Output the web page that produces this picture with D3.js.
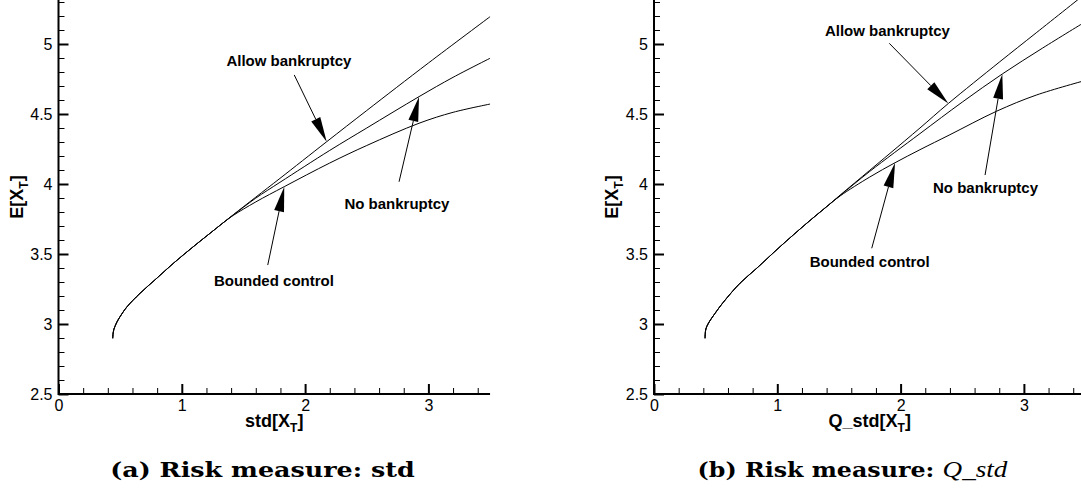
<!DOCTYPE html>
<html>
<head>
<meta charset="utf-8">
<script src="https://cdn.jsdelivr.net/npm/d3@7"></script>
<style>
  body { margin: 0; background: #fff; }
  svg { display: block; }
  .tick text { font-family: "Liberation Sans", Arial, sans-serif; font-size: 16px; fill: #000; }
</style>
</head>
<body>
<svg id="chart"></svg>
<script>
// panel (a): E[X_T] against std[X_T]
var aShared = [[0.440, 2.898], [0.443, 2.935], [0.449, 2.962], [0.458, 2.983], [0.475, 3.016], [0.499, 3.052],
  [0.553, 3.120], [0.661, 3.219], [0.796, 3.326], [0.931, 3.433], [1.093, 3.552], [1.256, 3.667], [1.350, 3.733]];
var aAllow = [[1.418, 3.781], [1.600, 3.906], [1.796, 4.040], [2.175, 4.302], [2.500, 4.525], [3.000, 4.864], [3.500, 5.195]];
var aNoBank = [[1.418, 3.779], [1.600, 3.899], [1.796, 4.012], [2.200, 4.240], [2.500, 4.400], [2.924, 4.624], [3.200, 4.762], [3.500, 4.898]];
var aBounded = [[1.418, 3.776], [1.600, 3.872], [1.831, 3.981], [2.200, 4.150], [2.500, 4.275], [2.924, 4.434], [3.200, 4.512], [3.500, 4.571]];

// panel (b): E[X_T] against Q_std[X_T]
var bShared = [[0.414, 2.898], [0.416, 2.935], [0.421, 2.965], [0.441, 3.005], [0.495, 3.076], [0.562, 3.155],
  [0.697, 3.291], [0.833, 3.398], [1.022, 3.552], [1.238, 3.719], [1.400, 3.838]];
var bAllow = [[1.510, 3.921], [1.750, 4.098], [1.914, 4.219], [2.157, 4.400], [2.387, 4.575], [2.800, 4.870], [3.100, 5.080], [3.500, 5.360]];
var bNoBank = [[1.510, 3.918], [1.750, 4.090], [2.157, 4.360], [2.500, 4.585], [2.825, 4.786], [3.150, 4.970], [3.500, 5.160]];
var bBounded = [[1.510, 3.915], [1.750, 4.050], [1.955, 4.152], [2.157, 4.245], [2.400, 4.352], [2.779, 4.520], [3.100, 4.635], [3.500, 4.740]];

// tick values
var xMajor = [0, 1, 2, 3];
var xMinor = [0.2, 0.4, 0.6, 0.8, 1.2, 1.4, 1.6, 1.8, 2.2, 2.4, 2.6, 2.8, 3.2, 3.4];
var yMajor = [2.5, 3, 3.5, 4, 4.5, 5];
var yMinor = [2.6, 2.7, 2.8, 2.9, 3.1, 3.2, 3.3, 3.4, 3.6, 3.7, 3.8, 3.9, 4.1, 4.2, 4.3, 4.4, 4.6, 4.7, 4.8, 4.9, 5.1, 5.2, 5.3];

// annotations: label, label anchor, arrow tail, arrow tip (data units)
var aNotes = [
  { text: 'Allow bankruptcy', at: [1.869, 4.845], tail: [1.912, 4.779], tip: [2.175, 4.302] },
  { text: 'No bankruptcy', at: [2.745, 3.821], tail: [2.762, 4.016], tip: [2.924, 4.624] },
  { text: 'Bounded control', at: [1.747, 3.274], tail: [1.697, 3.421], tip: [1.831, 3.981] }
];
var bNotes = [
  { text: 'Allow bankruptcy', at: [1.893, 5.059], tail: [1.908, 5.005], tip: [2.387, 4.575] },
  { text: 'No bankruptcy', at: [2.689, 3.933], tail: [2.685, 4.064], tip: [2.825, 4.786] },
  { text: 'Bounded control', at: [1.749, 3.404], tail: [1.766, 3.541], tip: [1.955, 4.152] }
];

var W = 1081, H = 501;
var svg = d3.select('#chart').attr('width', W).attr('height', H);

var panels = [
  { x0: 58.5, series: [aAllow, aNoBank, aBounded], shared: aShared, notes: aNotes,
    xTitle: 'std[X', captionBold: '(a) Risk measure: std', captionMath: '', capX: 262.5, capW: 305 },
  { x0: 654, series: [bAllow, bNoBank, bBounded], shared: bShared, notes: bNotes,
    xTitle: 'Q_std[X', captionBold: '(b) Risk measure: ', captionMath: 'Q_std', capX: 852.5, capW: 311 }
];

var unitX = 123.3, unitY = 140, yBottom = 394;

panels.forEach(function (p) {
  var g = svg.append('g');

  var x = d3.scaleLinear().domain([0, 3.5]).range([p.x0, p.x0 + 3.5 * unitX]);
  var y = d3.scaleLinear().domain([2.5, 5.3]).range([yBottom, yBottom - 2.8 * unitY]);

  // minor ticks
  g.append('g').attr('transform', 'translate(0,' + yBottom + ')')
    .call(d3.axisBottom(x).tickValues(xMinor).tickSize(-6).tickFormat(''))
    .call(function (s) { s.select('.domain').remove(); s.selectAll('line').attr('stroke-width', 1); });
  g.append('g').attr('transform', 'translate(' + p.x0 + ',0)')
    .call(d3.axisLeft(y).tickValues(yMinor).tickSize(-6).tickFormat(''))
    .call(function (s) { s.select('.domain').remove(); s.selectAll('line').attr('stroke-width', 1); });

  // major ticks + labels
  g.append('g').attr('transform', 'translate(0,' + yBottom + ')')
    .call(d3.axisBottom(x).tickValues(xMajor).tickSize(-10).tickPadding(6).tickFormat(d3.format('d')))
    .call(function (s) { s.select('.domain').remove(); s.selectAll('line').attr('stroke-width', 2); });
  g.append('g').attr('transform', 'translate(' + p.x0 + ',0)')
    .call(d3.axisLeft(y).tickValues(yMajor).tickSize(-10).tickPadding(6).tickFormat(function (d) { return String(d); }))
    .call(function (s) { s.select('.domain').remove(); s.selectAll('line').attr('stroke-width', 2); });

  // axis lines
  g.append('line').attr('x1', p.x0).attr('x2', x(3.5)).attr('y1', yBottom).attr('y2', yBottom)
    .attr('stroke', '#000').attr('stroke-width', 2);
  g.append('line').attr('x1', p.x0).attr('x2', p.x0).attr('y1', yBottom + 1).attr('y2', 0)
    .attr('stroke', '#000').attr('stroke-width', 2);

  // curves
  var line = d3.line()
    .x(function (d) { return x(d[0]); })
    .y(function (d) { return y(d[1]); })
    .curve(d3.curveCatmullRom.alpha(0.5));
  p.series.forEach(function (s) {
    g.append('path')
      .datum(p.shared.concat(s))
      .attr('fill', 'none')
      .attr('stroke', '#000')
      .attr('stroke-width', 1)
      .attr('d', line);
  });

  // annotations
  p.notes.forEach(function (n) {
    var tx = x(n.tail[0]), ty = y(n.tail[1]);
    var hx = x(n.tip[0]), hy = y(n.tip[1]);
    var dx = hx - tx, dy = hy - ty, len = Math.sqrt(dx * dx + dy * dy);
    var ux = dx / len, uy = dy / len;
    var headLen = 25, half = 5;
    var bx = hx - ux * headLen, by = hy - uy * headLen;
    g.append('line').attr('x1', tx).attr('y1', ty).attr('x2', bx).attr('y2', by)
      .attr('stroke', '#000').attr('stroke-width', 1);
    g.append('path')
      .attr('d', 'M' + hx + ',' + hy + 'L' + (bx - uy * half) + ',' + (by + ux * half) +
        'L' + (bx + uy * half) + ',' + (by - ux * half) + 'Z')
      .attr('fill', '#000');
    g.append('text')
      .attr('x', x(n.at[0])).attr('y', y(n.at[1]))
      .attr('text-anchor', 'middle')
      .style('font-family', '"Liberation Sans", Arial, sans-serif')
      .style('font-size', '15px').style('font-weight', 'bold')
      .text(n.text);
  });

  // axis titles
  var xt = g.append('text')
    .attr('x', (x(0) + x(3.5)) / 2).attr('y', 427)
    .attr('text-anchor', 'middle')
    .style('font-family', '"Liberation Sans", Arial, sans-serif')
    .style('font-size', '18px').style('font-weight', 'bold');
  xt.append('tspan').text(p.xTitle);
  xt.append('tspan').attr('dy', 5).style('font-size', '12px').text('T');
  xt.append('tspan').attr('dy', -5).text(']');

  var yt = g.append('text')
    .attr('transform', 'translate(' + (p.x0 - 36) + ',197) rotate(-90)')
    .attr('text-anchor', 'middle')
    .style('font-family', '"Liberation Sans", Arial, sans-serif')
    .style('font-size', '18px').style('font-weight', 'bold');
  yt.append('tspan').text('E[X');
  yt.append('tspan').attr('dy', 5).style('font-size', '12px').text('T');
  yt.append('tspan').attr('dy', -5).text(']');

  // caption, stretched horizontally to the reference width
  var cap = svg.append('text')
    .attr('x', p.capX).attr('y', 477)
    .attr('text-anchor', 'middle')
    .style('font-family', '"DejaVu Serif", serif')
    .style('font-size', '21px');
  cap.append('tspan').style('font-weight', 'bold').text(p.captionBold);
  if (p.captionMath) {
    cap.append('tspan')
      .style('font-family', '"Liberation Serif", serif')
      .style('font-style', 'italic').style('font-size', '24px')
      .text(p.captionMath);
  }
  var w = cap.node().getBBox().width;
  var sx = p.capW / w;
  cap.attr('transform', 'translate(' + p.capX + ',0) scale(' + sx + ',1) translate(' + (-p.capX) + ',0)');
});
</script>
</body>
</html>
